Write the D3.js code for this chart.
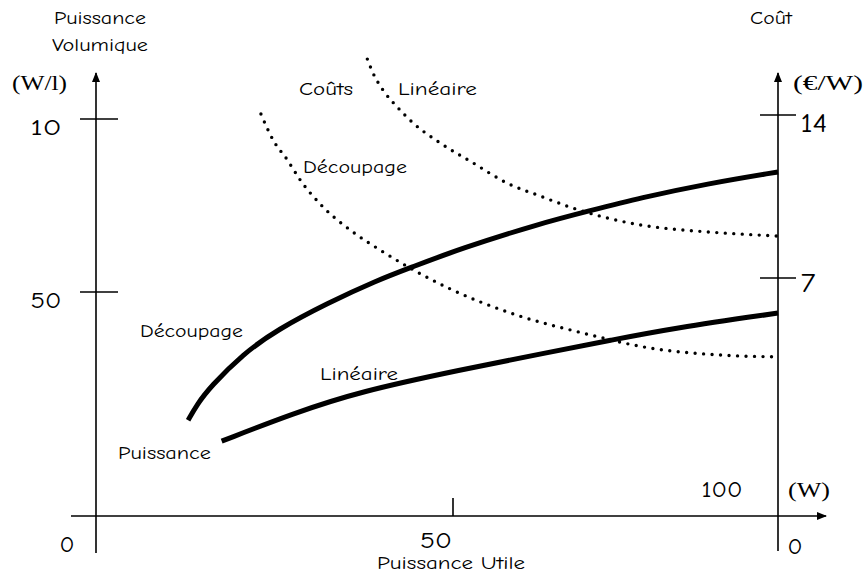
<!DOCTYPE html>
<html><head><meta charset="utf-8">
<script src="https://cdn.jsdelivr.net/npm/d3@7"></script>
<style>
html,body{margin:0;padding:0;background:#fff;}
svg{display:block;}
.lbl{font-family:"Comic Sans MS","Comic Neue","DejaVu Sans",sans-serif;fill:#000;}
.ser{font-family:"Liberation Serif","Times New Roman",serif;fill:#000;}
</style></head>
<body>
<svg id="c" width="864" height="573"></svg>
<script>
// ---- data (schematic: x in W, left in W/l units, right in €/W) ----
const xTickValues = [50];
const xTickLabels = ["50"];
const leftTickValues = [50, 100];
const leftTickLabels = ["50", "10"];
const rightTickValues = [7, 14];
const rightTickLabels = ["7", "14"];

// Puissance volumique – Découpage (solid)
const pvDecoupageW = [12.9, 14.2, 16.0, 20.6, 25.4, 32.4, 39.4, 44.0, 51.1, 63.4, 71.1, 78.8, 89.1, 100];
const pvDecoupageV = [21.4, 25.0, 28.8, 36.2, 41.6, 47.5, 53.4, 57.0, 62.5, 69.8, 73.5, 77.2, 81.3, 84.7];
// Puissance volumique – Linéaire (solid)
const pvLineaireW = [17.6, 27.6, 37.0, 51.1, 64.9, 74.2, 83.8, 100];
const pvLineaireV = [16.7, 22.9, 27.8, 32.6, 36.6, 39.2, 41.9, 45.3];
// Coût – Linéaire (dotted)
const coutLineaireW = [38.0, 38.8, 40.2, 42.2, 44.4, 48.2, 53.1, 58.3, 63.4, 68.5, 73.7, 78.8, 83.8, 89.1, 100];
const coutLineaireC = [16.4, 15.8, 15.07, 14.34, 13.66, 12.8, 11.94, 11.08, 10.52, 10.0, 9.58, 9.28, 9.1, 8.98, 8.8];
// Coût – Découpage (dotted)
const coutDecoupageW = [23.1, 24.8, 26.8, 28.6, 31.8, 35.6, 39.8, 49.6, 59.8, 70.0, 80.3, 90.6, 100];
const coutDecoupageC = [14.04, 12.93, 12.07, 11.21, 10.05, 9.06, 8.2, 6.68, 5.91, 5.38, 4.94, 4.74, 4.68];

// ---- scales (hand-drawn schematic, piecewise linear) ----
const svg = d3.select("#c");
const x = d3.scaleLinear().domain([0, 50, 100]).range([96, 453, 778]);
const yL = d3.scaleLinear().domain([0, 50, 100]).range([516, 292, 119]);
const yR = d3.scaleLinear().domain([0, 7, 14]).range([516, 278, 115]);

const x0 = x(0), xR = x(100), y0 = yL(0);

svg.append("defs").append("marker")
  .attr("id","arr").attr("viewBox","0 0 10 10").attr("refX",9).attr("refY",5)
  .attr("markerWidth",10).attr("markerHeight",10).attr("markerUnits","userSpaceOnUse")
  .attr("orient","auto")
  .append("path").attr("d","M0,1 L10,5 L0,9 Z").attr("fill","#000");

const ax = svg.append("g").attr("stroke","#000").attr("stroke-width",1.6).attr("fill","none");
ax.append("line").attr("x1",71).attr("y1",y0).attr("x2",826).attr("y2",y0).attr("marker-end","url(#arr)");
ax.append("line").attr("x1",x0).attr("y1",553).attr("x2",x0).attr("y2",73).attr("marker-end","url(#arr)");
ax.append("line").attr("x1",xR).attr("y1",551).attr("x2",xR).attr("y2",73).attr("marker-end","url(#arr)");

xTickValues.forEach(v => ax.append("line").attr("x1",x(v)).attr("x2",x(v)).attr("y1",y0-18).attr("y2",y0));
leftTickValues.forEach(v => ax.append("line").attr("x1",x0-16).attr("x2",x0+22).attr("y1",yL(v)).attr("y2",yL(v)));
rightTickValues.forEach(v => ax.append("line").attr("x1",xR-18).attr("x2",xR+18).attr("y1",yR(v)).attr("y2",yR(v)));

function txt(cls, size, xx, yy, s, anchor, len) {
  const t = svg.append("text").attr("class",cls).attr("font-size",size)
    .attr("x",xx).attr("y",yy).attr("text-anchor",anchor||"start").text(s);
  if (len) t.attr("textLength",len).attr("lengthAdjust","spacingAndGlyphs");
  return t;
}

// tick labels
leftTickValues.forEach((v,i) => txt("lbl",23,x0-50,yL(v)+16,leftTickLabels[i],"middle",31));
rightTickValues.forEach((v,i) => txt("lbl",26,xR+(i===0?30:36),yR(v)+(i===0?14:17),rightTickLabels[i],"middle",i===0?15:27));
xTickValues.forEach((v,i) => txt("lbl",23,x(v)-17,y0+32,xTickLabels[i],"middle",32));
txt("lbl",23,x0-29,y0+36,"0","middle",15);
txt("lbl",23,xR+17,y0+38,"0","middle",15);
txt("lbl",23,xR-56,y0-19,"100","middle",41);

// unit labels (serif)
txt("ser",22,12,90,"(W/l)","start",55);
txt("ser",22,793,90,"(€/W)","start",70);
txt("ser",22,788,y0-19,"(W)","start",42);

// axis titles
txt("lbl",19,x0+4,24,"Puissance","middle",92);
txt("lbl",19,x0+4,51,"Volumique","middle",96);
txt("lbl",19,xR-7,24,"Coût","middle",42);
txt("lbl",19,451,569,"Puissance Utile","middle",148);

// curves
const path = (W, V, ys, c) => d3.line().x((d,i)=>x(W[i])).y((d,i)=>ys(V[i])).curve(c)(W);
const g = svg.append("g").attr("fill","none").attr("stroke","#000");
g.append("path").attr("d", path(pvDecoupageW, pvDecoupageV, yL, d3.curveBasis)).attr("stroke-width",5);
g.append("path").attr("d", path(pvLineaireW, pvLineaireV, yL, d3.curveBasis)).attr("stroke-width",5);
g.append("path").attr("d", path(coutLineaireW, coutLineaireC, yR, d3.curveMonotoneX)).attr("stroke-width",3.4)
  .attr("stroke-linecap","round").attr("stroke-dasharray","0,8.5");
g.append("path").attr("d", path(coutDecoupageW, coutDecoupageC, yR, d3.curveMonotoneX)).attr("stroke-width",3.4)
  .attr("stroke-linecap","round").attr("stroke-dasharray","0,8.5");

// curve annotations
txt("lbl",19,299,95,"Coûts","start",54);
txt("lbl",19,398,95,"Linéaire","start",79);
txt("lbl",19,303,173,"Découpage","start",104);
txt("lbl",19,140,337,"Découpage","start",103);
txt("lbl",19,320,380,"Linéaire","start",78);
txt("lbl",19,118,459,"Puissance","start",93);
</script>
</body></html>
